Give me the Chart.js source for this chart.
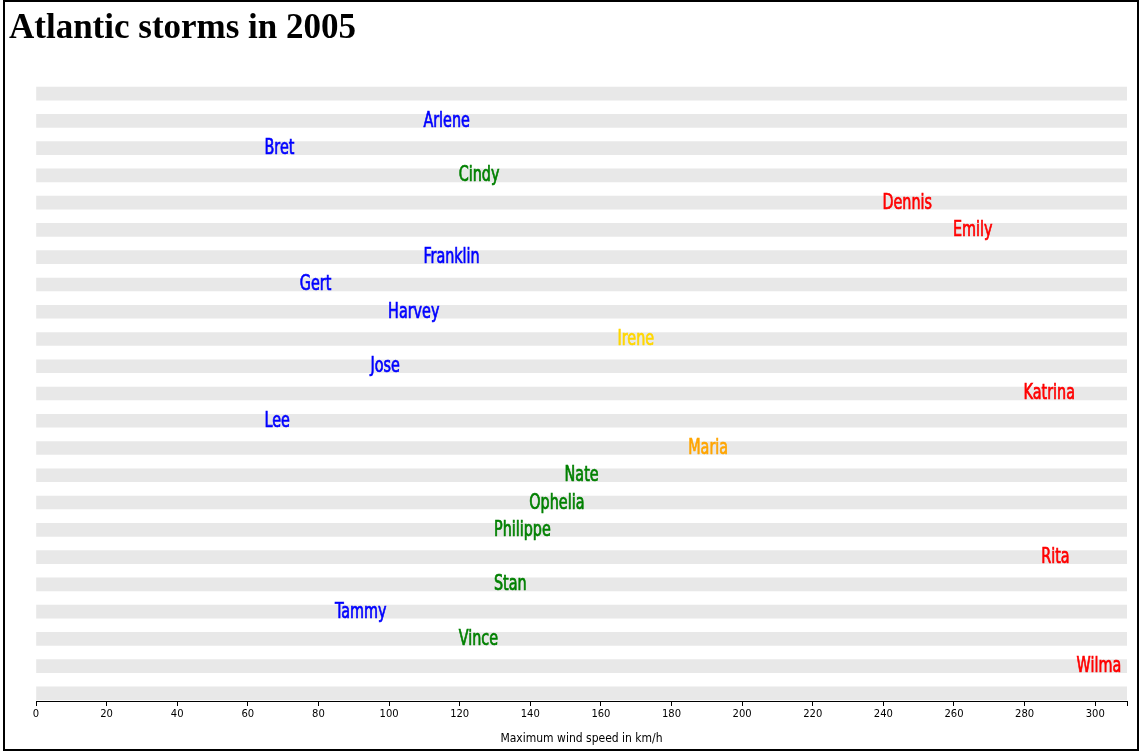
<!DOCTYPE html>
<html>
<head>
<meta charset="utf-8">
<script src="https://cdn.jsdelivr.net/npm/chart.js@4/dist/chart.umd.min.js"></script>
<style>
  html, body { margin: 0; padding: 0; background: #fff; overflow: hidden; }
  #wrap { position: absolute; left: 0; top: 0; width: 1142px; height: 752px; }
  #frame { position: absolute; left: 3px; top: 0; width: 1132px; height: 747px; border: 2px solid #000; pointer-events: none; }
  h1 { position: absolute; left: 9px; top: 9px; margin: 0; font: bold 35px/1 'Liberation Serif', 'Times New Roman', serif; color: #000; }
</style>
</head>
<body>
<div id="wrap"><canvas id="chart" width="1142" height="752"></canvas></div>
<h1>Atlantic storms in 2005</h1>
<div id="frame"></div>
<script>
// --- data ---
const storms = ['Arlene', 'Bret', 'Cindy', 'Dennis', 'Emily', 'Franklin', 'Gert', 'Harvey', 'Irene', 'Jose',
                'Katrina', 'Lee', 'Maria', 'Nate', 'Ophelia', 'Philippe', 'Rita', 'Stan', 'Tammy', 'Vince', 'Wilma'];
const maxWind = [110, 65, 120, 240, 260, 110, 75, 100, 165, 95,
                 280, 65, 185, 150, 140, 130, 285, 130, 85, 120, 295];
const xMax = 309;
const xStep = 20;
const xTitle = 'Maximum wind speed in km/h';

// one stripe per row, with an empty row above and below the storms
const rows = storms.length + 2;
const stripeRows = Array.from({ length: rows }, (_, i) => i);

// colour by Saffir-Simpson category
function stormColor(v) {
    if (v >= 209) return '#ff0000';
    if (v >= 178) return '#ffa500';
    if (v >= 154) return '#ffd700';
    if (v >= 119) return '#008000';
    return '#0000ff';
}

const condensed = "'DejaVu Sans Condensed', 'DejaVu Sans', sans-serif";
const labelFont = "21px " + condensed;

// storm names, drawn at their wind speed on the x scale (narrow face)
const stormLabels = {
    id: 'stormLabels',
    afterDatasetsDraw(chart) {
        const { ctx, scales } = chart;
        ctx.save();
        ctx.font = labelFont;
        ctx.textAlign = 'left';
        ctx.textBaseline = 'alphabetic';
        storms.forEach((name, i) => {
            const x = scales.x.getPixelForValue(maxWind[i]) - 1;
            const y = scales.y.getPixelForValue(i + 1) + 6;
            const c = stormColor(maxWind[i]);
            ctx.save();
            ctx.translate(x, y);
            ctx.scale(0.76, 1);
            ctx.fillStyle = c;
            ctx.strokeStyle = c;
            ctx.lineWidth = 0.7;
            ctx.fillText(name, 0, 0);
            ctx.strokeText(name, 0, 0);
            ctx.restore();
        });
        ctx.restore();
    }
};

new Chart(document.getElementById('chart'), {
    type: 'bar',
    data: {
        datasets: [{
            data: stripeRows.map(r => ({ x: [0, xMax], y: r })),
            backgroundColor: '#e8e8e8',
            borderWidth: 0,
            barThickness: 13
        }]
    },
    options: {
        indexAxis: 'y',
        responsive: false,
        animation: false,
        events: [],
        layout: { padding: { left: 36, right: 15, top: 80, bottom: 6 } },
        plugins: { legend: { display: false }, tooltip: { enabled: false } },
        scales: {
            y: {
                type: 'linear',
                display: false,
                offset: false,
                reverse: true,
                min: -0.5,
                max: rows - 1 + 0.28
            },
            x: {
                type: 'linear',
                position: 'bottom',
                offset: false,
                min: 0,
                max: xMax,
                afterBuildTicks: s => { s.ticks.push({ value: xMax }); },
                afterFit: s => { s.height = 45; },
                border: { display: true, color: '#000', width: 1 },
                grid: { drawOnChartArea: false, drawTicks: true, tickLength: 5, color: '#000' },
                ticks: {
                    stepSize: xStep,
                    includeBounds: false,
                    autoSkip: false,
                    maxRotation: 0,
                    padding: 2,
                    color: '#000',
                    font: { family: "'DejaVu Sans', sans-serif", size: 10 },
                    callback: v => (v % xStep === 0 ? v : '')
                },
                title: {
                    display: true,
                    text: xTitle,
                    color: '#000',
                    padding: { top: 4, bottom: 0 },
                    font: { family: condensed, size: 12 }
                }
            }
        }
    },
    plugins: [stormLabels]
});
</script>
</body>
</html>
